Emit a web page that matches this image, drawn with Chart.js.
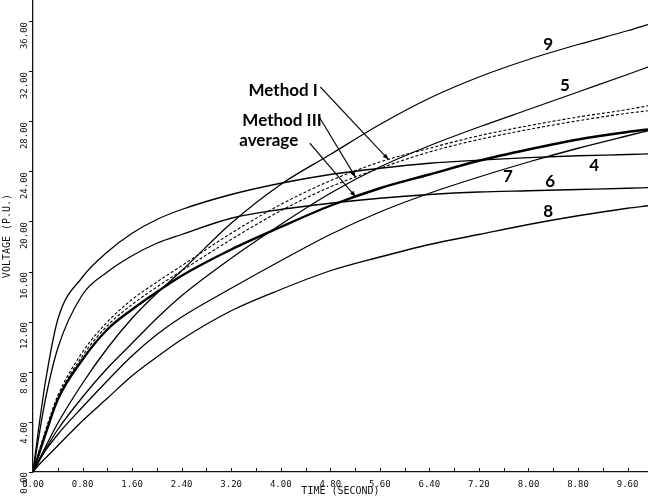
<!DOCTYPE html>
<html>
<head>
<meta charset="utf-8">
<script src="https://cdn.jsdelivr.net/npm/chart.js@4/dist/chart.umd.min.js"></script>
<style>
  html, body { margin: 0; padding: 0; background: #fff; }
  #wrap { width: 648px; height: 497px; position: relative; }
</style>
</head>
<body>
<div id="wrap"><canvas id="c" width="648" height="497"></canvas></div>
<script>
// Time samples (seconds) shared by every curve
const time = [0, 0.1, 0.2, 0.4, 0.8, 1.2, 1.6, 2.0, 2.4, 3.2, 4.0, 4.8, 5.6, 6.4, 7.2, 8.0, 8.8, 9.6, 9.93];

// Voltage (p.u.) of each case
const case4 = [0, 3.8, 7.2, 12.2, 15.6, 17.6, 19.1, 20.2, 21.0, 22.2, 23.1, 23.8, 24.3, 24.7, 24.95, 25.15, 25.3, 25.4, 25.45];
const case5 = [0, 0.9, 1.8, 3.4, 6.0, 8.3, 10.3, 12.3, 14.1, 17.1, 19.8, 22.3, 24.4, 26.1, 27.6, 29.0, 30.4, 31.8, 32.4];
const case6 = [0, 3.0, 5.8, 9.9, 14.2, 16.0, 17.3, 18.3, 19.0, 20.3, 21.0, 21.5, 21.9, 22.2, 22.4, 22.5, 22.6, 22.7, 22.75];
const case7 = [0, 0.9, 1.7, 3.0, 5.2, 7.3, 9.3, 11.0, 12.4, 14.7, 16.9, 19.0, 20.8, 22.3, 23.6, 24.8, 25.9, 26.9, 27.3];
const case8 = [0, 0.6, 1.1, 2.1, 4.1, 5.9, 7.7, 9.2, 10.6, 12.9, 14.6, 16.1, 17.2, 18.2, 19.0, 19.8, 20.5, 21.1, 21.3];
const case9 = [0, 1.0, 2.0, 3.9, 7.1, 9.9, 12.3, 14.3, 16.1, 19.9, 23.0, 25.4, 27.8, 29.9, 31.6, 33.0, 34.2, 35.3, 35.8];
const methodI = [0, 1.7, 3.3, 6.1, 9.6, 12.0, 13.8, 15.2, 16.5, 19.1, 21.4, 23.3, 24.8, 25.9, 26.9, 27.7, 28.4, 29.0, 29.3];
const methodIII = [0, 1.6, 3.1, 5.9, 9.3, 11.7, 13.4, 14.8, 16.1, 18.6, 20.9, 22.8, 24.3, 25.6, 26.6, 27.4, 28.1, 28.7, 28.9];
const average = [0, 1.5, 3.0, 5.8, 9.0, 11.4, 13.0, 14.4, 15.7, 17.8, 19.6, 21.3, 22.7, 23.8, 24.9, 25.8, 26.6, 27.2, 27.4];

// Axis tick labels
const xTickLabels = ['0.00', '0.80', '1.60', '2.40', '3.20', '4.00', '4.80', '5.60', '6.40', '7.20', '8.00', '8.80', '9.60'];
const yTickLabels = ['0.00', '4.00', '8.00', '12.00', '16.00', '20.00', '24.00', '28.00', '32.00', '36.00'];

const pts = vals => time.map((t, i) => ({ x: t, y: vals[i] }));

function series(label, vals, extra) {
  return Object.assign({
    label, data: pts(vals),
    borderColor: '#000', borderWidth: 1.3,
    pointRadius: 0, fill: false,
    cubicInterpolationMode: 'monotone'
  }, extra || {});
}

const datasets = [
  series('9', case9),
  series('5', case5),
  series('Method I', methodI, { borderDash: [3, 2], borderWidth: 1.1 }),
  series('Method III', methodIII, { borderDash: [3, 2], borderWidth: 1.1 }),
  series('average', average, { borderWidth: 2.4 }),
  series('4', case4),
  series('7', case7),
  series('6', case6),
  series('8', case8)
];

// value of a named series at time t (linear between samples)
function valueAt(vals, t) {
  for (let i = 1; i < time.length; i++) {
    if (t <= time[i]) {
      const f = (t - time[i - 1]) / (time[i] - time[i - 1]);
      return vals[i - 1] + f * (vals[i] - vals[i - 1]);
    }
  }
  return vals[vals.length - 1];
}

// Curve numbers, placed in data coordinates
const curveTags = [
  { text: '9', t: 8.32, v: 34.2 },
  { text: '5', t: 8.59, v: 30.9 },
  { text: '4', t: 9.06, v: 24.5 },
  { text: '7', t: 7.67, v: 23.6 },
  { text: '6', t: 8.35, v: 23.2 },
  { text: '8', t: 8.32, v: 20.85 }
];

// Method captions with leader arrows pointing onto their curves
const callouts = [
  { text: 'Method I', t: 3.48, v: 30.5, from: { t: 4.64, v: 30.8 }, vals: methodI, at: 5.74 },
  { text: 'Method III', t: 3.38, v: 28.1, from: { t: 4.61, v: 28.5 }, vals: methodIII, at: 5.21 },
  { text: 'average', t: 3.33, v: 26.5, from: { t: 4.47, v: 26.3 }, vals: average, at: 5.21 }
];

const annotate = {
  id: 'annotate',
  afterDraw(chart) {
    const { ctx, scales: { x, y } } = chart;
    ctx.save();
    // inward tick marks on the time axis
    ctx.strokeStyle = '#111';
    ctx.lineWidth = 1;
    const yb = y.getPixelForValue(0);
    x.ticks.forEach(tk => {
      const px = Math.round(x.getPixelForValue(tk.value)) + 0.5;
      ctx.beginPath(); ctx.moveTo(px, yb); ctx.lineTo(px, yb - 4); ctx.stroke();
    });

    ctx.fillStyle = '#000';
    ctx.font = 'bold 17px Lato, "Open Sans", sans-serif';
    ctx.textAlign = 'center';
    ctx.textBaseline = 'middle';
    curveTags.forEach(tg => ctx.fillText(tg.text, x.getPixelForValue(tg.t), y.getPixelForValue(tg.v)));

    ctx.textAlign = 'left';
    ctx.lineWidth = 1.2;
    callouts.forEach(c => {
      ctx.fillText(c.text, x.getPixelForValue(c.t), y.getPixelForValue(c.v));
      const x0 = x.getPixelForValue(c.from.t), y0 = y.getPixelForValue(c.from.v);
      const x1 = x.getPixelForValue(c.at), y1 = y.getPixelForValue(valueAt(c.vals, c.at));
      ctx.beginPath(); ctx.moveTo(x0, y0); ctx.lineTo(x1, y1); ctx.stroke();
      const a = Math.atan2(y1 - y0, x1 - x0), L = 6, W = 2.2;
      ctx.beginPath();
      ctx.moveTo(x1, y1);
      ctx.lineTo(x1 - L * Math.cos(a) + W * Math.sin(a), y1 - L * Math.sin(a) - W * Math.cos(a));
      ctx.lineTo(x1 - L * Math.cos(a) - W * Math.sin(a), y1 - L * Math.sin(a) + W * Math.cos(a));
      ctx.closePath(); ctx.fill();
    });
    ctx.restore();
  }
};

const tickFont = { family: '"DejaVu Sans Mono", monospace', size: 9 };

new Chart(document.getElementById('c'), {
  type: 'line',
  data: { datasets },
  options: {
    responsive: false,
    animation: false,
    events: [],
    layout: { padding: 0 },
    plugins: { legend: { display: false }, tooltip: { enabled: false } },
    scales: {
      x: {
        type: 'linear', min: 0, max: 9.93,
        ticks: {
          stepSize: 0.4, includeBounds: false, autoSkip: false, maxRotation: 0,
          font: tickFont, color: '#111', padding: 7,
          callback: v => {
            const k = Math.round(v * 10);
            return k % 8 === 0 ? xTickLabels[k / 8] : '';
          }
        },
        grid: { display: true, drawOnChartArea: false, drawTicks: false, color: '#111' },
        border: { display: true, color: '#111', width: 1.3 },
        title: { display: true, text: 'TIME (SECOND)', color: '#111',
                 font: { family: '"DejaVu Sans Mono", monospace', size: 10 }, padding: { top: 0, bottom: 0 } },
        afterFit(s) { s.height = 25; s.paddingLeft = 0; s.paddingRight = 0; }
      },
      y: {
        min: 0, max: 37.76,
        ticks: {
          stepSize: 2, includeBounds: false, minRotation: 90, maxRotation: 90,
          font: tickFont, color: '#111', padding: 4,
          callback: v => {
            const k = Math.round(v);
            return k % 4 === 0 ? yTickLabels[k / 4] : '';
          }
        },
        grid: { drawOnChartArea: false, drawTicks: true, tickLength: 4, color: '#111' },
        border: { display: true, color: '#111', width: 1.3 },
        title: { display: true, text: 'VOLTAGE (P.U.)', color: '#111',
                 font: { family: '"DejaVu Sans Mono", monospace', size: 10 }, padding: { top: 1, bottom: 0 } },
        afterFit(s) { s.width = 33; s.paddingTop = 0; s.paddingBottom = 0; }
      }
    }
  },
  plugins: [annotate]
});
</script>
</body>
</html>
